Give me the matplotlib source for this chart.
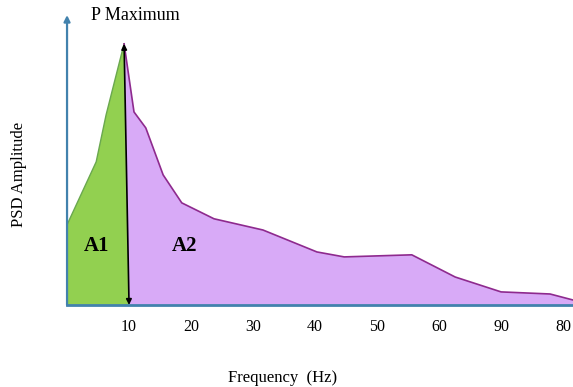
import matplotlib.pyplot as plt

# green part (A1) up to the peak
a1_freq = [0, 4.7, 6.3, 9.2]
a1_amp = [30.7, 54.8, 72.8, 100]

# purple part (A2) after the peak
a2_freq = [9.2, 10.8, 12.7, 15.5, 18.5, 23.7, 31.6, 40.3, 44.7, 55.6, 62.6, 70.0, 77.9, 81.6]
a2_amp = [100, 73.9, 67.8, 49.8, 39.1, 33.0, 28.7, 20.3, 18.4, 19.2, 10.7, 5.0, 4.2, 1.9]

split_freq = 10
tick_pos = [10, 20, 30, 40, 50, 60, 70, 80]
tick_labels = ['10', '20', '30', '40', '50', '60', '90', '80']

plt.rcParams['font.family'] = ['Liberation Serif', 'DejaVu Serif']

fig = plt.figure(figsize=(5.73, 3.87), dpi=100)
ax = fig.add_axes([0.117, 0.212, 0.883, 0.749])

axis_col = '#4282ad'

ax.fill(a1_freq + [split_freq, 0], a1_amp + [0, 0], color='#92d050', lw=0)
ax.plot(a1_freq, a1_amp, color='#6aa84f', lw=1)
ax.fill(a2_freq + [a2_freq[-1], split_freq], a2_amp + [0, 0], color='#d8aaf7', lw=0)
ax.plot(a2_freq, a2_amp, color='#8e2a8e', lw=1.2)

# double arrow from the peak down to the axis
ax.annotate('', xy=(split_freq, 0), xytext=(a1_freq[-1], a1_amp[-1]),
            arrowprops=dict(arrowstyle='<|-|>', color='black', lw=1.2,
                            mutation_scale=8, shrinkA=0, shrinkB=0))

ax.set_xlim(0, 81.6)
ax.set_ylim(0, 111)
for s in ['top', 'right', 'left']:
    ax.spines[s].set_visible(False)
ax.spines['bottom'].set_color(axis_col)
ax.spines['bottom'].set_linewidth(2)

# y axis with arrow head
ax.annotate('', xy=(0, 111), xytext=(0, 0), annotation_clip=False,
            arrowprops=dict(arrowstyle='-|>', color=axis_col, lw=1.6,
                            mutation_scale=9, shrinkA=0, shrinkB=0))

ax.set_xticks(tick_pos)
ax.set_xticklabels(tick_labels, fontsize=11.5)
ax.tick_params(axis='x', length=0, pad=10)
ax.set_yticks([])

ax.text(4.7, 22.6, 'A1', fontsize=15, fontweight='bold', ha='center', va='center')
ax.text(18.9, 22.6, 'A2', fontsize=15, fontweight='bold', ha='center', va='center')
ax.text(3.8, 111, 'P Maximum', fontsize=13, ha='left', va='center')

fig.text(0.494, 0.023, 'Frequency  (Hz)', fontsize=12, ha='center', va='center')
fig.text(0.033, 0.548, 'PSD Amplitude', fontsize=12, ha='center', va='center', rotation=90)

plt.savefig('out.png', dpi=100)
